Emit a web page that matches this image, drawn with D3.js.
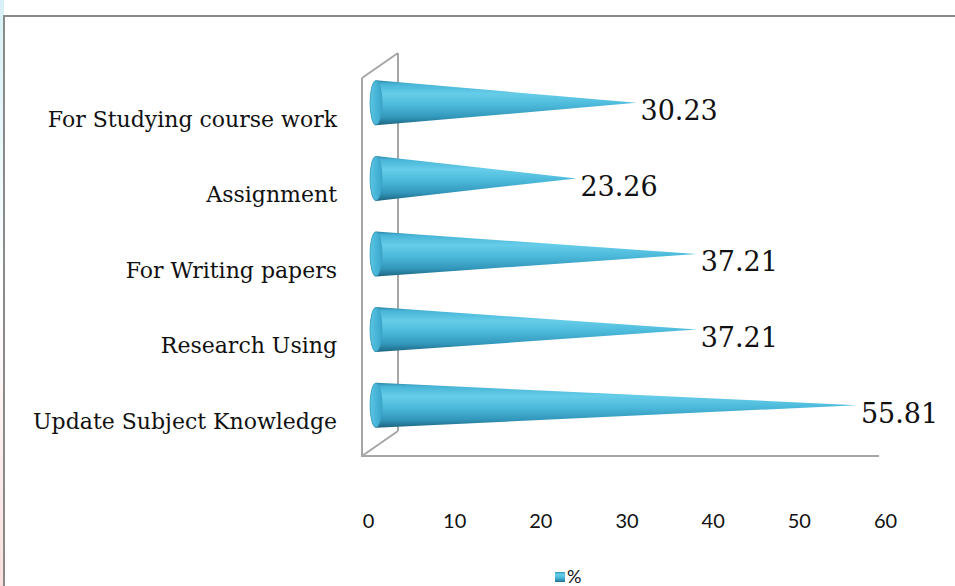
<!DOCTYPE html>
<html>
<head>
<meta charset="utf-8">
<script src="https://cdn.jsdelivr.net/npm/d3@7"></script>
<style>
  body { margin: 0; background: #fff; }
  svg { display: block; }
</style>
</head>
<body>
<svg id="chart" width="955" height="586"></svg>
<script>
// data (top row first)
const categories = ['For Studying course work', 'Assignment', 'For Writing papers', 'Research Using', 'Update Subject Knowledge'];
const values = [30.23, 23.26, 37.21, 37.21, 55.81];
const tickValues = [0, 10, 20, 30, 40, 50, 60];
const seriesName = '%';

const width = 955, height = 586;
const plot = {left: 362, right: 879, top: 78, bottom: 456};
// 3D depth offsets
const wall = {dx: 36, dy: -25};
const mid = {dx: 14, dy: -13};
const coneR = 22.5, capRx = 6;

const svg = d3.select('#chart');
const defs = svg.append('defs');

const grad = defs.append('linearGradient')
    .attr('id', 'coneGrad')
    .attr('x1', 0).attr('y1', 0).attr('x2', 0).attr('y2', 1);
[[0, '#2a84a6'], [0.08, '#47b4d6'], [0.3, '#66cde9'], [0.55, '#4cb9da'], [0.82, '#3297bb'], [1, '#1d6580']]
    .forEach(s => grad.append('stop').attr('offset', s[0]).attr('stop-color', s[1]));

const capGrad = defs.append('linearGradient')
    .attr('id', 'capGrad')
    .attr('x1', 0).attr('y1', 0).attr('x2', 1).attr('y2', 0);
[[0, '#5cc4e2'], [0.5, '#49b6d8'], [1, '#3aa6cb']]
    .forEach(s => capGrad.append('stop').attr('offset', s[0]).attr('stop-color', s[1]));

const edgeGrad = defs.append('linearGradient')
    .attr('id', 'edgeGrad')
    .attr('x1', 0).attr('y1', 0).attr('x2', 0).attr('y2', 1);
[[0, '#d6f1f6'], [0.5, '#ffffff'], [1, '#f9dede']]
    .forEach(s => edgeGrad.append('stop').attr('offset', s[0]).attr('stop-color', s[1]));

// faint strip on the very left and the frame
svg.append('rect').attr('x', 0).attr('y', 0).attr('width', 4).attr('height', height).attr('fill', 'url(#edgeGrad)');
svg.append('path')
    .attr('d', `M4,${height}V16H${width}`)
    .attr('fill', 'none')
    .attr('stroke', '#8a8a8a')
    .attr('stroke-width', 2);

const xScale = d3.scaleLinear()
    .domain([0, 60])
    .range([plot.left, plot.right]);

const yScale = d3.scaleBand()
    .domain(categories)
    .range([plot.top, plot.bottom]);

// walls / floor outline
const wallColor = '#a6a6a6';
svg.append('path')
    .attr('d', `M${plot.left},${plot.top}L${plot.left + wall.dx},${plot.top + wall.dy}` +
        `M${plot.left},${plot.bottom}L${plot.left + wall.dx},${plot.bottom + wall.dy}` +
        `M${plot.left + wall.dx},${plot.top + wall.dy}V${plot.bottom + wall.dy}` +
        `M${plot.left},${plot.top}V${plot.bottom}H${plot.right}`)
    .attr('fill', 'none')
    .attr('stroke', wallColor)
    .attr('stroke-width', 2);

// x axis labels
const xAxis = g => g.attr('transform', `translate(0, ${plot.bottom + 58})`)
    .call(d3.axisBottom(xScale).tickValues(tickValues).tickSize(0).tickPadding(0))
    .call(g => g.select('.domain').remove())
    .call(g => g.selectAll('text')
        .attr('font-family', 'Lato, "Open Sans", sans-serif')
        .attr('font-size', 20)
        .attr('fill', '#111')
        .attr('dx', 6));
svg.append('g').attr('class', 'x-axis').call(xAxis);

// category labels
svg.append('g')
    .selectAll('text')
    .data(categories)
    .join('text')
    .attr('x', 337)
    .attr('y', d => yScale(d) + yScale.bandwidth() / 2 + 3)
    .attr('dy', '0.35em')
    .attr('text-anchor', 'end')
    .attr('font-family', '"DejaVu Serif", serif')
    .attr('font-size', 22)
    .attr('fill', '#111')
    .text(d => d);

// cones
const rows = categories.map((c, i) => ({cat: c, value: values[i]}));
const cones = svg.append('g').selectAll('g')
    .data(rows)
    .join('g')
    .attr('class', 'cone');

const coneY = d => yScale(d.cat) + yScale.bandwidth() / 2 + mid.dy;
const x0 = xScale(0) + mid.dx;

cones.append('path')
    .attr('d', d => {
        const cy = coneY(d), xt = xScale(d.value) + mid.dx;
        return `M${x0},${cy - coneR}L${xt},${cy}L${x0},${cy + coneR}` +
            `A${capRx},${coneR} 0 0 1 ${x0},${cy - coneR}Z`;
    })
    .attr('fill', 'url(#coneGrad)');

cones.append('ellipse')
    .attr('cx', x0)
    .attr('cy', coneY)
    .attr('rx', capRx)
    .attr('ry', coneR - 0.5)
    .attr('fill', 'url(#capGrad)')
    .attr('stroke', '#3a9fc2')
    .attr('stroke-width', 0.8);

// value labels
cones.append('text')
    .attr('x', d => xScale(d.value) + mid.dx + 4)
    .attr('y', d => coneY(d) + 8)
    .attr('dy', '0.35em')
    .attr('font-family', '"DejaVu Serif", serif')
    .attr('font-size', 27)
    .attr('fill', '#111')
    .text(d => d.value.toFixed(2));

// legend
const legend = svg.append('g').attr('transform', 'translate(555, 572)');
legend.append('rect')
    .attr('width', 10).attr('height', 10)
    .attr('fill', 'url(#coneGrad)');
legend.append('text')
    .attr('x', 12).attr('y', 5)
    .attr('dy', '0.35em')
    .attr('font-family', 'Lato, "Open Sans", sans-serif')
    .attr('font-size', 18)
    .attr('fill', '#111')
    .text(seriesName);
</script>
</body>
</html>
